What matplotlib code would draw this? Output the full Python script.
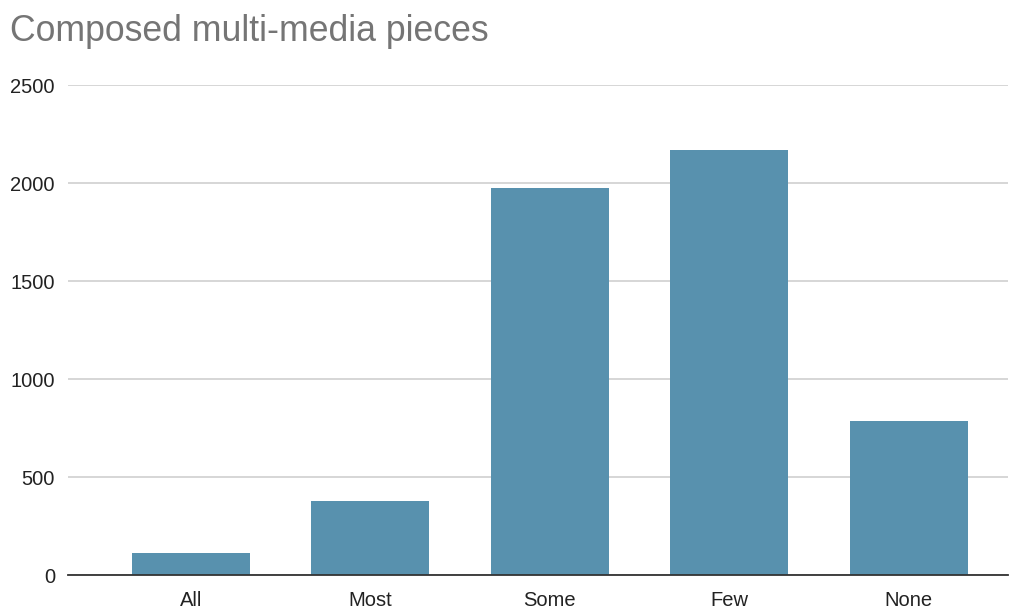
import matplotlib
matplotlib.use("Agg")
import matplotlib.pyplot as plt

categories = ["All", "Most", "Some", "Few", "None"]
values = [112, 379, 1974, 2168, 788]
yticks = [0, 500, 1000, 1500, 2000, 2500]

plt.rcParams['font.family'] = ['Liberation Sans', 'DejaVu Sans']

fig = plt.figure(figsize=(10.2, 6.1), dpi=100)
ax = fig.add_axes([68/1020, (610-575.3)/610, (1008-68)/1020, (575.3-85.3)/610])

x = list(range(len(categories)))
ax.bar(x, values, width=0.655, color="#5891ae", zorder=3)

ax.set_xlim(-0.684, 4.553)
ax.set_ylim(0, 2500)
ax.set_yticks(yticks)
ax.set_yticklabels([str(v) for v in yticks])
ax.set_xticks(x)
ax.set_xticklabels(categories)

ax.grid(axis='y', color="#cccccc", linewidth=1.1, zorder=0)
ax.grid(axis='x', visible=False)
for s in ["top", "right", "left"]:
    ax.spines[s].set_visible(False)
ax.spines["bottom"].set_color("#333333")
ax.spines["bottom"].set_linewidth(1.3)
ax.spines["bottom"].set_zorder(4)

ax.tick_params(axis='y', length=0, pad=9.4, labelsize=14.5, labelcolor="#222222")
ax.tick_params(axis='x', length=0, pad=11.5, labelsize=14.5, labelcolor="#222222")

fig.text(10/1020, 1 - 41/610, "Composed multi-media pieces", fontsize=25.7,
         color="#757575", ha="left", va="baseline")

fig.savefig("out.png", dpi=100, facecolor="white")
